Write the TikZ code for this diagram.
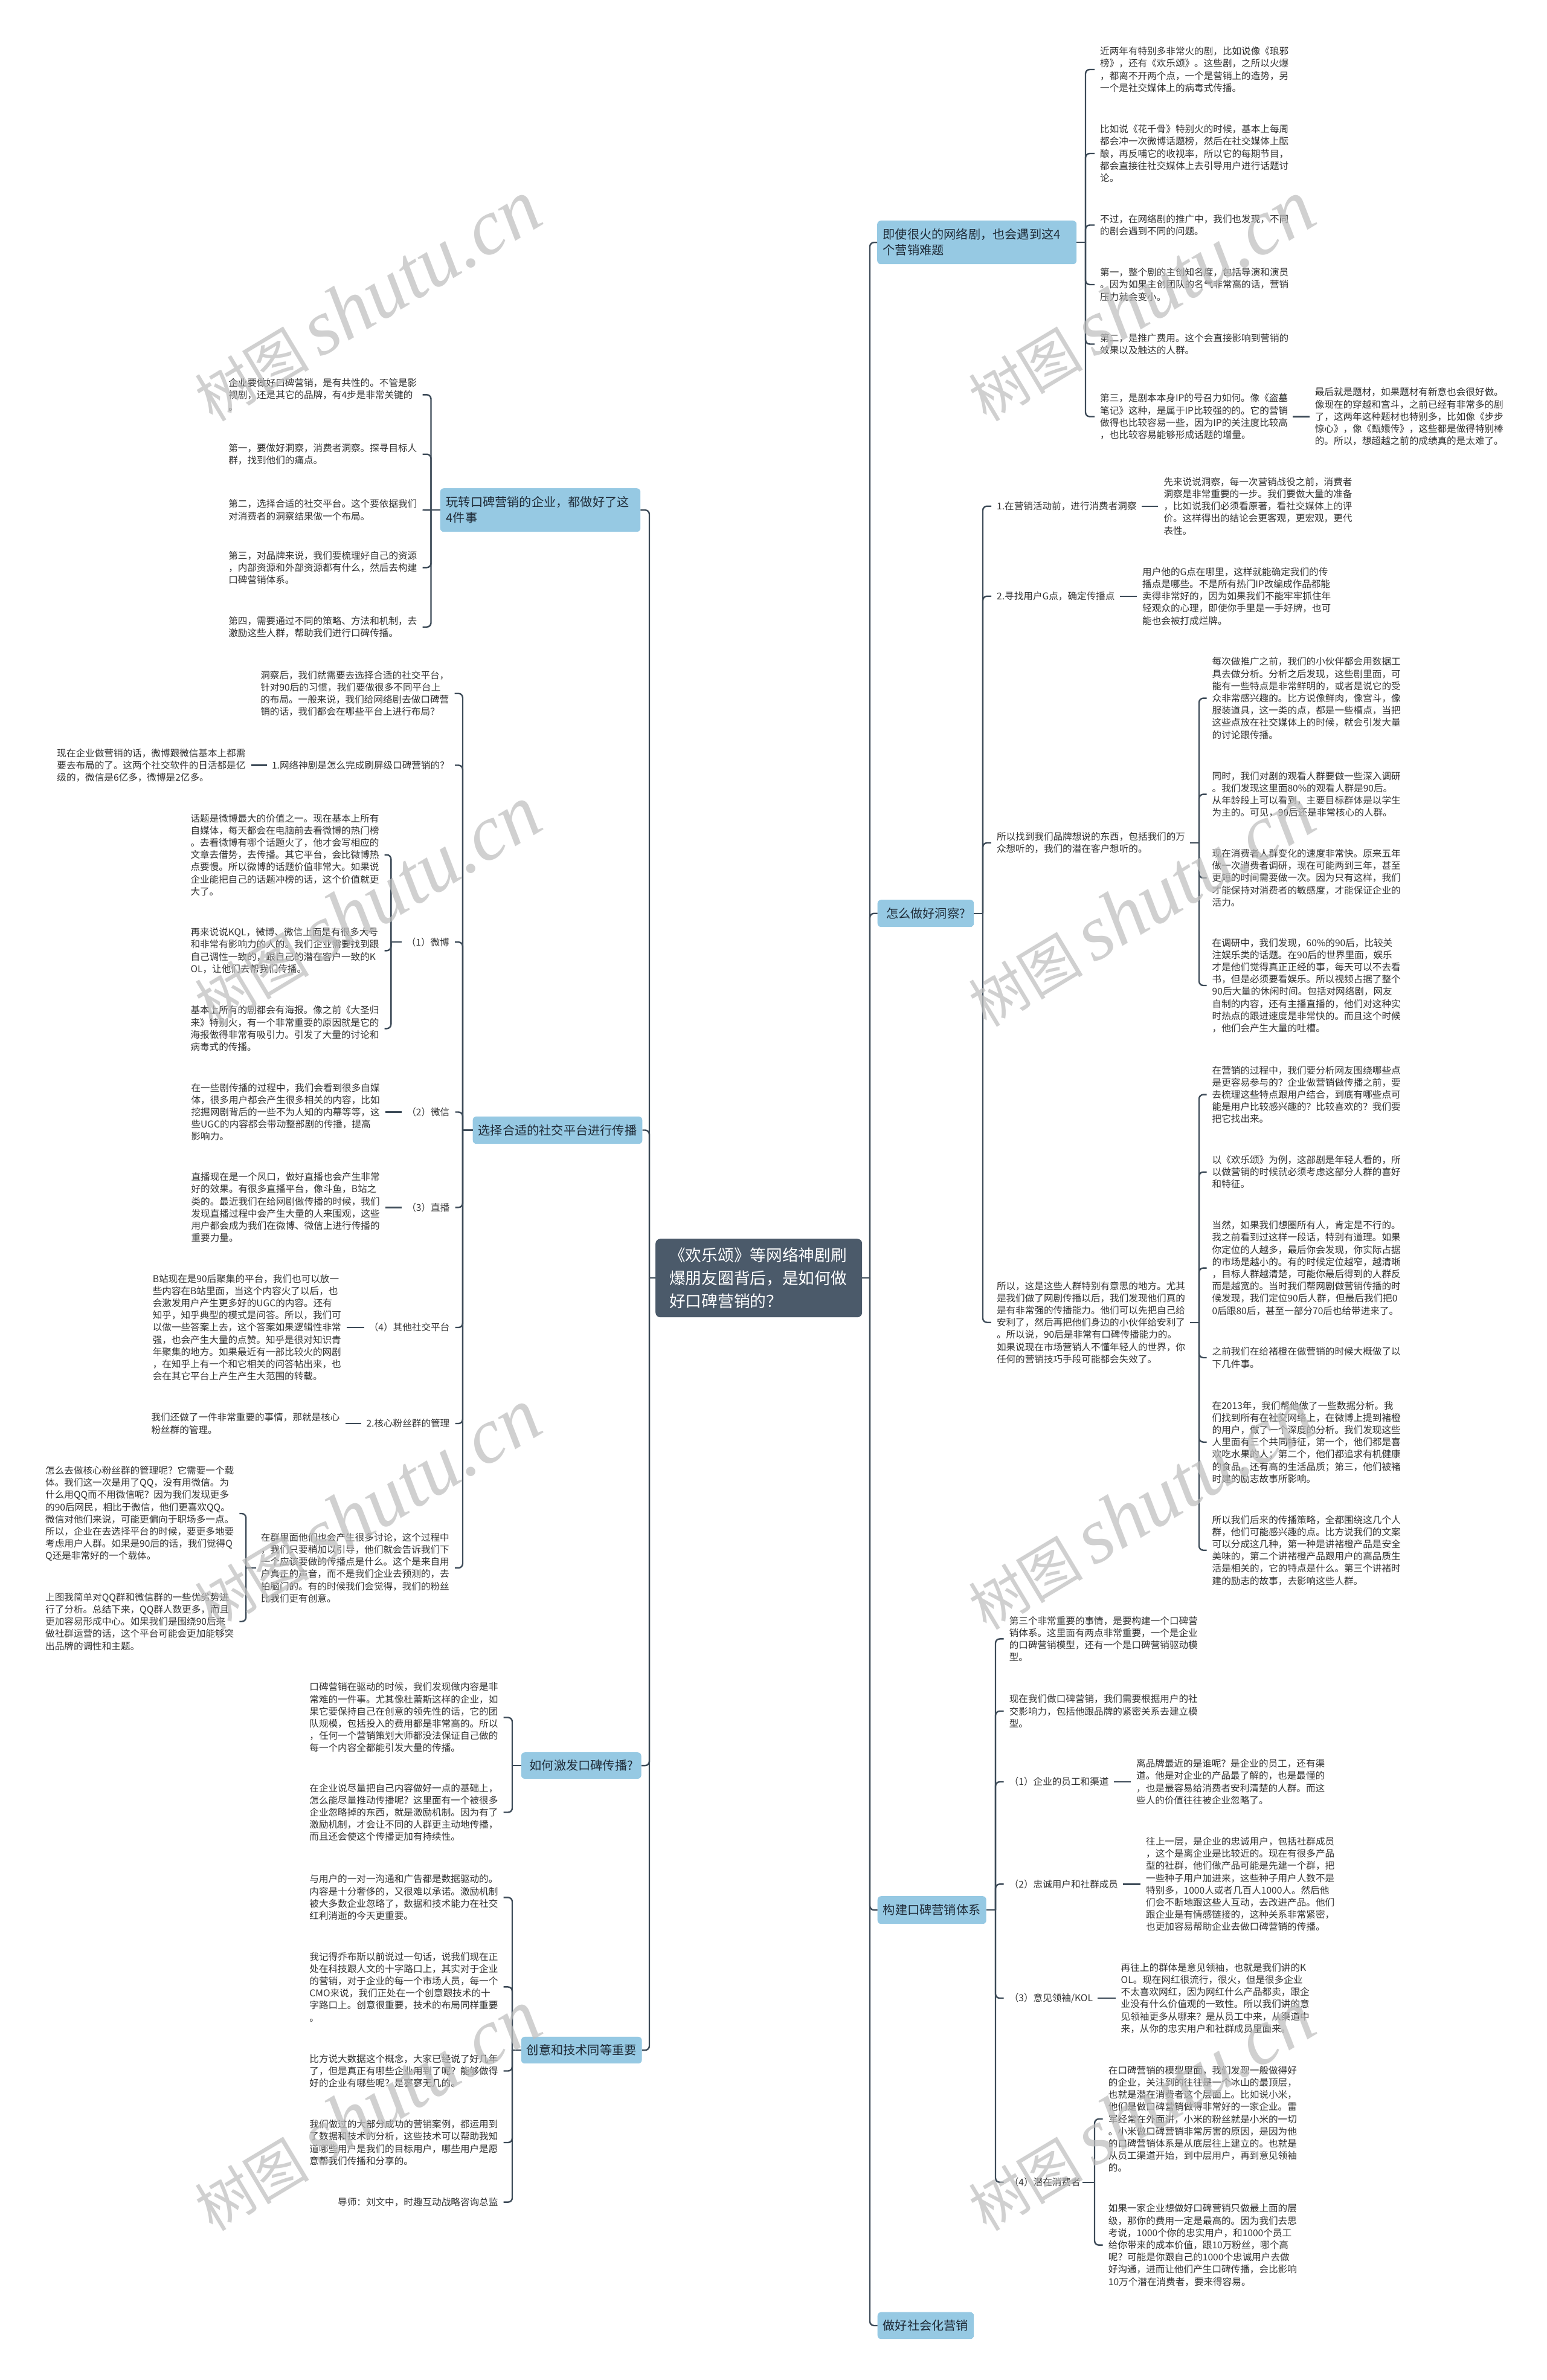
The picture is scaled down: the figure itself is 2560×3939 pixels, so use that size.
\documentclass[tikz,border=0pt]{standalone}
\usepackage{fontspec}
\setmainfont{Noto Sans CJK SC}
\newfontfamily\wmfont{Liberation Serif}
\definecolor{lcol}{HTML}{3D4B58}
\definecolor{tcol}{HTML}{333333}
\definecolor{boxblue}{HTML}{96C9E3}
\definecolor{boxtxt}{HTML}{1E2A36}
\definecolor{cfill}{HTML}{4B5A6A}
\definecolor{wmcol}{HTML}{BDBDBD}
\newcommand{\fanR}[5]{\draw[conn] ([xshift=#2]#1.east) -- (#3 |- #1.east);
 \foreach \cc in {#5}{\draw[conn,rcor] (#3 |- #1.east) |- ([xshift=-#4]\cc.west);}}
\newcommand{\fanL}[5]{\draw[conn] ([xshift=-#2]#1.west) -- (#3 |- #1.west);
 \foreach \cc in {#5}{\draw[conn,rcor] (#3 |- #1.west) |- ([xshift=#4]\cc.east);}}
\newcommand{\linkR}[2]{\draw[conn] ([xshift=8pt]#1.east) -- ([xshift=-9pt]#2.west);}
\newcommand{\linkL}[2]{\draw[conn] ([xshift=-8pt]#1.west) -- ([xshift=9pt]#2.east);}
\begin{document}
\begin{tikzpicture}[x=1pt,y=-1pt,
 txt/.style={font=\fontsize{15.6}{20.2}\selectfont, align=left, inner sep=0pt, text=tcol},
 rt/.style={txt, anchor=west},
 lt/.style={txt, anchor=east},
 brbox/.style={fill=boxblue, rounded corners=6pt, font=\fontsize{20.2}{26}\selectfont, text=boxtxt, inner xsep=9pt, inner ysep=0pt, anchor=north west, align=left},
 conn/.style={draw=lcol, line width=2.4pt},
 rcor/.style={rounded corners=7pt},
 wm/.style={text=wmcol, opacity=0.7, rotate=31, inner sep=0pt, anchor=base west}
]
\fill[white] (0,0) rectangle (2560,3939);
\useasboundingbox (0,0) rectangle (2560,3939);

% ---------- central and branch boxes ----------
\node[fill=cfill, rounded corners=8pt, anchor=north west, text=white, font=\fontsize{26.7}{37.7}\selectfont, text width=296pt, inner xsep=23pt, inner ysep=0pt, minimum height=130pt, align=left] (C) at (1085,2050) {《欢乐颂》等网络神剧刷\\爆朋友圈背后，是如何做\\好口碑营销的？};

\node[brbox, text width=311pt, inner xsep=9.5pt, minimum height=72pt] (R1) at (1452,365) {即使很火的网络剧，也会遇到这4\\个营销难题};
\node[brbox, minimum width=159.5pt, minimum height=45pt] (R2) at (1452.5,1489) {怎么做好洞察?};
\node[brbox, minimum width=180pt, minimum height=46pt] (R3) at (1452.5,3138) {构建口碑营销体系};
\node[brbox, minimum width=159.5pt, minimum height=44.5pt] (R4) at (1452.5,3826.5) {做好社会化营销};
\node[brbox, text width=311.5pt, inner xsep=10pt, minimum height=72pt] (L1) at (728.5,808) {玩转口碑营销的企业，都做好了这\\4件事};
\node[brbox, minimum width=279pt, minimum height=45.4pt] (L2) at (782.5,1847.6) {选择合适的社交平台进行传播};
\node[brbox, minimum width=198.8pt, minimum height=43.7pt] (L3) at (862.6,2900) {如何激发口碑传播?};
\node[brbox, minimum width=198.8pt, minimum height=44.3pt] (L4) at (862.6,3370.7) {创意和技术同等重要};

% ---------- R1 children ----------
\node[rt] (R1a) at (1821,115) {近两年有特别多非常火的剧，比如说像《琅邪\\榜》，还有《欢乐颂》。这些剧，之所以火爆\\，都离不开两个点，一个是营销上的造势，另\\一个是社交媒体上的病毒式传播。};
\node[rt] (R1b) at (1821,254) {比如说《花千骨》特别火的时候，基本上每周\\都会冲一次微博话题榜，然后在社交媒体上酝\\酿，再反哺它的收视率，所以它的每期节目，\\都会直接往社交媒体上去引导用户进行话题讨\\论。};
\node[rt] (R1c) at (1821,372.5) {不过，在网络剧的推广中，我们也发现，不同\\的剧会遇到不同的问题。};
\node[rt] (R1d) at (1821,471) {第一，整个剧的主创知名度，包括导演和演员\\。因为如果主创团队的名气非常高的话，营销\\压力就会变小。};
\node[rt] (R1e) at (1821,569.5) {第二，是推广费用。这个会直接影响到营销的\\效果以及触达的人群。};
\node[rt] (R1f) at (1821,689.5) {第三，是剧本本身IP的号召力如何。像《盗墓\\笔记》这种，是属于IP比较强的的。它的营销\\做得也比较容易一些，因为IP的关注度比较高\\，也比较容易能够形成话题的增量。};
\node[rt] (R1g) at (2176.6,689.5) {最后就是题材，如果题材有新意也会很好做。\\像现在的穿越和宫斗，之前已经有非常多的剧\\了，这两年这种题材也特别多，比如像《步步\\惊心》，像《甄嬛传》，这些都是做得特别棒\\的。所以，想超越之前的成绩真的是太难了。};

% ---------- R2 children ----------
\node[rt] (R2a) at (1650,837.7) {1.在营销活动前，进行消费者洞察};
\node[rt] (R2a1) at (1926.3,837.7) {先来说说洞察，每一次营销战役之前，消费者\\洞察是非常重要的一步。我们要做大量的准备\\，比如说我们必须看原著，看社交媒体上的评\\价。这样得出的结论会更客观，更宏观，更代\\表性。};
\node[rt] (R2b) at (1650,986.7) {2.寻找用户G点，确定传播点};
\node[rt] (R2b1) at (1891,986.7) {用户他的G点在哪里，这样就能确定我们的传\\播点是哪些。不是所有热门IP改编成作品都能\\卖得非常好的，因为如果我们不能牢牢抓住年\\轻观众的心理，即使你手里是一手好牌，也可\\能也会被打成烂牌。};
\node[rt] (R2c) at (1649.8,1395) {所以找到我们品牌想说的东西，包括我们的万\\众想听的，我们的潜在客户想听的。};
\node[rt] (R2c1) at (2006.5,1155.6) {每次做推广之前，我们的小伙伴都会用数据工\\具去做分析。分析之后发现，这些剧里面，可\\能有一些特点是非常鲜明的，或者是说它的受\\众非常感兴趣的。比方说像鲜肉，像宫斗，像\\服装道具，这一类的点，都是一些槽点，当把\\这些点放在社交媒体上的时候，就会引发大量\\的讨论跟传播。};
\node[rt] (R2c2) at (2006.5,1314.6) {同时，我们对剧的观看人群要做一些深入调研\\。我们发现这里面80\%的观看人群是90后。\\从年龄段上可以看到，主要目标群体是以学生\\为主的。可见，90后还是非常核心的人群。};
\node[rt] (R2c3) at (2006.5,1453) {现在消费者人群变化的速度非常快。原来五年\\做一次消费者调研，现在可能两到三年，甚至\\更短的时间需要做一次。因为只有这样，我们\\才能保持对消费者的敏感度，才能保证企业的\\活力。};
\node[rt] (R2c4) at (2006.5,1631) {在调研中，我们发现，60\%的90后，比较关\\注娱乐类的话题。在90后的世界里面，娱乐\\才是他们觉得真正正经的事，每天可以不去看\\书，但是必须要看娱乐。所以视频占据了整个\\90后大量的休闲时间。包括对网络剧，网友\\自制的内容，还有主播直播的，他们对这种实\\时热点的跟进速度是非常快的。而且这个时候\\，他们会产生大量的吐槽。};
\node[rt] (R2d) at (1649.8,2188.7) {所以，这是这些人群特别有意思的地方。尤其\\是我们做了网剧传播以后，我们发现他们真的\\是有非常强的传播能力。他们可以先把自己给\\安利了，然后再把他们身边的小伙伴给安利了\\。所以说，90后是非常有口碑传播能力的。\\如果说现在市场营销人不懂年轻人的世界，你\\任何的营销技巧手段可能都会失效了。};
\node[rt] (R2d1) at (2006.5,1811.6) {在营销的过程中，我们要分析网友围绕哪些点\\是更容易参与的？企业做营销做传播之前，要\\去梳理这些特点跟用户结合，到底有哪些点可\\能是用户比较感兴趣的？比较喜欢的？我们要\\把它找出来。};
\node[rt] (R2d2) at (2006.5,1939.7) {以《欢乐颂》为例，这部剧是年轻人看的，所\\以做营销的时候就必须考虑这部分人群的喜好\\和特征。};
\node[rt] (R2d3) at (2006.5,2098.6) {当然，如果我们想圈所有人，肯定是不行的。\\我之前看到过这样一段话，特别有道理。如果\\你定位的人越多，最后你会发现，你实际占据\\的市场是越小的。有的时候定位越窄，越清晰\\，目标人群越清楚，可能你最后得到的人群反\\而是越宽的。当时我们帮网剧做营销传播的时\\候发现，我们定位90后人群，但最后我们把0\\0后跟80后，甚至一部分70后也给带进来了。};
\node[rt] (R2d4) at (2006.5,2247) {之前我们在给褚橙在做营销的时候大概做了以\\下几件事。};
\node[rt] (R2d5) at (2006.5,2386.7) {在2013年，我们帮他做了一些数据分析。我\\们找到所有在社交网络上，在微博上提到褚橙\\的用户，做了一个深度的分析。我们发现这些\\人里面有三个共同特征，第一个，他们都是喜\\欢吃水果的人；第二个，他们都追求有机健康\\的食品，还有高的生活品质；第三，他们被褚\\时建的励志故事所影响。};
\node[rt] (R2d6) at (2006.5,2565.7) {所以我们后来的传播策略，全都围绕这几个人\\群，他们可能感兴趣的点。比方说我们的文案\\可以分成这几种，第一种是讲褚橙产品是安全\\美味的，第二个讲褚橙产品跟用户的高品质生\\活是相关的，它的特点是什么。第三个讲褚时\\建的励志的故事，去影响这些人群。};

% ---------- R3 children ----------
\node[rt] (R3a) at (1670.6,2712.4) {第三个非常重要的事情，是要构建一个口碑营\\销体系。这里面有两点非常重要，一个是企业\\的口碑营销模型，还有一个是口碑营销驱动模\\型。};
\node[rt] (R3b) at (1670.6,2832) {现在我们做口碑营销，我们需要根据用户的社\\交影响力，包括他跟品牌的紧密关系去建立模\\型。};
\node[rt] (R3c) at (1670.6,2949) {（1）企业的员工和渠道};
\node[rt] (R3c1) at (1881,2949) {离品牌最近的是谁呢？是企业的员工，还有渠\\道。他是对企业的产品最了解的，也是最懂的\\，也是最容易给消费者安利清楚的人群。而这\\些人的价值往往被企业忽略了。};
\node[rt] (R3d) at (1670.6,3118.3) {（2）忠诚用户和社群成员};
\node[rt] (R3d1) at (1897,3118.3) {往上一层，是企业的忠诚用户，包括社群成员\\，这个是离企业是比较近的。现在有很多产品\\型的社群，他们做产品可能是先建一个群，把\\一些种子用户加进来，这些种子用户人数不是\\特别多，1000人或者几百人1000人。然后他\\们会不断地跟这些人互动，去改进产品。他们\\跟企业是有情感链接的，这种关系非常紧密，\\也更加容易帮助企业去做口碑营销的传播。};
\node[rt] (R3e) at (1670.6,3307) {（3）意见领袖/KOL};
\node[rt] (R3e1) at (1855.5,3307) {再往上的群体是意见领袖，也就是我们讲的K\\OL。现在网红很流行，很火，但是很多企业\\不太喜欢网红，因为网红什么产品都卖，跟企\\业没有什么价值观的一致性。所以我们讲的意\\见领袖更多从哪来？是从员工中来，从渠道中\\来，从你的忠实用户和社群成员里面来。};
\node[rt] (R3f) at (1670.6,3611.7) {（4）潜在消费者};
\node[rt] (R3f1) at (1834.7,3507) {在口碑营销的模型里面，我们发现一般做得好\\的企业，关注到的往往是一个冰山的最顶层，\\也就是潜在消费者这个层面上。比如说小米，\\他们是做口碑营销做得非常好的一家企业。雷\\军经常在外面讲，小米的粉丝就是小米的一切\\。小米做口碑营销非常厉害的原因，是因为他\\的口碑营销体系是从底层往上建立的。也就是\\从员工渠道开始，到中层用户，再到意见领袖\\的。};
\node[rt] (R3f2) at (1834.7,3715.6) {如果一家企业想做好口碑营销只做最上面的层\\级，那你的费用一定是最高的。因为我们去思\\考说，1000个你的忠实用户，和1000个员工\\给你带来的成本价值，跟10万粉丝，哪个高\\呢？可能是你跟自己的1000个忠诚用户去做\\好沟通，进而让他们产生口碑传播，会比影响\\10万个潜在消费者，要来得容易。};

% ---------- L1 children ----------
\node[lt] (L1a) at (690.5,653.3) {企业要做好口碑营销，是有共性的。不管是影\\视剧，还是其它的品牌，有4步是非常关键的\\。};
\node[lt] (L1b) at (690.5,751.7) {第一，要做好洞察，消费者洞察。探寻目标人\\群，找到他们的痛点。};
\node[lt] (L1c) at (690.5,844) {第二，选择合适的社交平台。这个要依据我们\\对消费者的洞察结果做一个布局。};
\node[lt] (L1d) at (690.5,939.3) {第三，对品牌来说，我们要梳理好自己的资源\\，内部资源和外部资源都有什么，然后去构建\\口碑营销体系。};
\node[lt] (L1e) at (690.5,1037.7) {第四，需要通过不同的策略、方法和机制，去\\激励这些人群，帮助我们进行口碑传播。};

% ---------- L2 children ----------
\node[lt] (L2a) at (743.5,1147.7) {洞察后，我们就需要去选择合适的社交平台，\\针对90后的习惯，我们要做很多不同平台上\\的布局。一般来说，我们给网络剧去做口碑营\\销的话，我们都会在哪些平台上进行布局？};
\node[lt] (L2b) at (744,1266.5) {1.网络神剧是怎么完成刷屏级口碑营销的？};
\node[lt] (L2b1) at (406.6,1266.5) {现在企业做营销的话，微博跟微信基本上都需\\要去布局的了。这两个社交软件的日活都是亿\\级的，微信是6亿多，微博是2亿多。};
\node[lt] (L2c) at (744,1559.2) {（1）微博};
\node[lt] (L2c1) at (627.7,1414.8) {话题是微博最大的价值之一。现在基本上所有\\自媒体，每天都会在电脑前去看微博的热门榜\\。去看微博有哪个话题火了，他才会写相应的\\文章去借势，去传播。其它平台，会比微博热\\点要慢。所以微博的话题价值非常大。如果说\\企业能把自己的话题冲榜的话，这个价值就更\\大了。};
\node[lt] (L2c2) at (627.7,1573.3) {再来说说KQL，微博、微信上面是有很多大号\\和非常有影响力的人的。我们企业需要找到跟\\自己调性一致的，跟自己的潜在客户一致的K\\OL，让他们去帮我们传播。};
\node[lt] (L2c3) at (627.7,1702.3) {基本上所有的剧都会有海报。像之前《大圣归\\来》特别火，有一个非常重要的原因就是它的\\海报做得非常有吸引力。引发了大量的讨论和\\病毒式的传播。};
\node[lt] (L2d) at (744.5,1840.5) {（2）微信};
\node[lt] (L2d1) at (628.8,1840.5) {在一些剧传播的过程中，我们会看到很多自媒\\体，很多用户都会产生很多相关的内容，比如\\挖掘网剧背后的一些不为人知的内幕等等，这\\些UGC的内容都会带动整部剧的传播，提高\\影响力。};
\node[lt] (L2e) at (744.5,1998.3) {（3）直播};
\node[lt] (L2e1) at (628.8,1998.3) {直播现在是一个风口，做好直播也会产生非常\\好的效果。有很多直播平台，像斗鱼，B站之\\类的。最近我们在给网剧做传播的时候，我们\\发现直播过程中会产生大量的人来围观，这些\\用户都会成为我们在微博、微信上进行传播的\\重要力量。};
\node[lt] (L2f) at (744.5,2197) {（4）其他社交平台};
\node[lt] (L2f1) at (565,2197) {B站现在是90后聚集的平台，我们也可以放一\\些内容在B站里面，当这个内容火了以后，也\\会激发用户产生更多好的UGC的内容。还有\\知乎，知乎典型的模式是问答。所以，我们可\\以做一些答案上去，这个答案如果逻辑性非常\\强，也会产生大量的点赞。知乎是很对知识青\\年聚集的地方。如果最近有一部比较火的网剧\\，在知乎上有一个和它相关的问答帖出来，也\\会在其它平台上产生产生大范围的转载。};
\node[lt] (L2g) at (744.5,2356) {2.核心粉丝群的管理};
\node[lt] (L2g1) at (562.7,2356) {我们还做了一件非常重要的事情，那就是核心\\粉丝群的管理。};
\node[lt] (L2h) at (744,2594.9) {在群里面他们也会产生很多讨论，这个过程中\\，我们只要稍加以引导，他们就会告诉我们下\\一个应该要做的传播点是什么。这个是来自用\\户真正的声音，而不是我们企业去预测的，去\\拍脑门的。有的时候我们会觉得，我们的粉丝\\比我们更有创意。};
\node[lt] (L2h1) at (387.4,2505) {怎么去做核心粉丝群的管理呢？它需要一个载\\体。我们这一次是用了QQ，没有用微信。为\\什么用QQ而不用微信呢？因为我们发现更多\\的90后网民，相比于微信，他们更喜欢QQ。\\微信对他们来说，可能更偏向于职场多一点。\\所以，企业在去选择平台的时候，要更多地要\\考虑用户人群。如果是90后的话，我们觉得Q\\Q还是非常好的一个载体。};
\node[lt] (L2h2) at (387.4,2683.7) {上图我简单对QQ群和微信群的一些优劣势进\\行了分析。总结下来，QQ群人数更多，而且\\更加容易形成中心。如果我们是围绕90后来\\做社群运营的话，这个平台可能会更加能够突\\出品牌的调性和主题。};

% ---------- L3 / L4 children ----------
\node[lt] (L3a) at (824.6,2842.5) {口碑营销在驱动的时候，我们发现做内容是非\\常难的一件事。尤其像杜蕾斯这样的企业，如\\果它要保持自己在创意的领先性的话，它的团\\队规模，包括投入的费用都是非常高的。所以\\，任何一个营销策划大师都没法保证自己做的\\每一个内容全都能引发大量的传播。};
\node[lt] (L3b) at (824.6,2999.5) {在企业说尽量把自己内容做好一点的基础上，\\怎么能尽量推动传播呢？这里面有一个被很多\\企业忽略掉的东西，就是激励机制。因为有了\\激励机制，才会让不同的人群更主动地传播，\\而且还会使这个传播更加有持续性。};
\node[lt] (L4a) at (824.6,3140.3) {与用户的一对一沟通和广告都是数据驱动的。\\内容是十分奢侈的，又很难以承诺。激励机制\\被大多数企业忽略了，数据和技术能力在社交\\红利消逝的今天更重要。};
\node[lt] (L4b) at (824.6,3288.4) {我记得乔布斯以前说过一句话，说我们现在正\\处在科技跟人文的十字路口上，其实对于企业\\的营销，对于企业的每一个市场人员，每一个\\CMO来说，我们正处在一个创意跟技术的十\\字路口上。创意很重要，技术的布局同样重要\\。};
\node[lt] (L4c) at (824.6,3427.5) {比方说大数据这个概念，大家已经说了好几年\\了，但是真正有哪些企业用到了呢？能够做得\\好的企业有哪些呢？是寥寥无几的。};
\node[lt] (L4d) at (824.6,3546) {我们做过的大部分成功的营销案例，都运用到\\了数据和技术的分析，这些技术可以帮助我知\\道哪些用户是我们的目标用户，哪些用户是愿\\意帮我们传播和分享的。};
\node[lt] (L4e) at (824.6,3644.6) {导师：刘文中，时趣互动战略咨询总监};

% ---------- spines ----------
\coordinate (sR) at (1440,0);
\coordinate (sL) at (1075,0);
\coordinate (sR1) at (1797,0);
\coordinate (sR2) at (1627,0);
\coordinate (sR2c) at (1985,0);
\coordinate (sR3) at (1648,0);
\coordinate (sR3f) at (1812,0);
\coordinate (sL1) at (713.5,0);
\coordinate (sL2) at (766,0);
\coordinate (sL2c) at (647.3,0);
\coordinate (sL2h) at (407.2,0);
\coordinate (sL3) at (848,0);

% ---------- connectors ----------
\fanR{C}{0pt}{sR}{0pt}{R1,R2,R3,R4}
\fanL{C}{0pt}{sL}{0pt}{L1,L2,L3,L4}
\fanR{R1}{0pt}{sR1}{9pt}{R1a,R1b,R1c,R1d,R1e,R1f}
\linkR{R1f}{R1g}
\fanR{R2}{0pt}{sR2}{9pt}{R2a,R2b,R2c,R2d}
\linkR{R2a}{R2a1}
\linkR{R2b}{R2b1}
\fanR{R2c}{8pt}{sR2c}{9pt}{R2c1,R2c2,R2c3,R2c4}
\fanR{R2d}{8pt}{sR2c}{9pt}{R2d1,R2d2,R2d3,R2d4,R2d5,R2d6}
\fanR{R3}{0pt}{sR3}{9pt}{R3a,R3b,R3c,R3d,R3e,R3f}
\linkR{R3c}{R3c1}
\linkR{R3d}{R3d1}
\linkR{R3e}{R3e1}
\fanR{R3f}{3pt}{sR3f}{9pt}{R3f1,R3f2}
\fanL{L1}{0pt}{sL1}{9pt}{L1a,L1b,L1d,L1e}
\draw[conn] (sL1 |- L1.west) -- ([xshift=9pt]L1c.east);
\fanL{L2}{0pt}{sL2}{9pt}{L2a,L2b,L2c,L2d,L2e,L2f,L2g,L2h}
\linkL{L2b}{L2b1}
\linkL{L2d}{L2d1}
\linkL{L2e}{L2e1}
\linkL{L2f}{L2f1}
\linkL{L2g}{L2g1}
\fanL{L2c}{8pt}{sL2c}{9pt}{L2c1,L2c2,L2c3}
\fanL{L2h}{8pt}{sL2h}{9pt}{L2h1,L2h2}
\fanL{L3}{0pt}{sL3}{9pt}{L3a,L3b}
\fanL{L4}{0pt}{sL3}{9pt}{L4a,L4b,L4c,L4d,L4e}

% ---------- watermarks ----------
\foreach \wx/\wy [count=\i] in {352/700,1633/700,352/1702,1633/1702,352/2700,1633/2700,352/3695,1633/3695}{
  \node[wm] (wm\i) at (\wx,\wy) {{\fontsize{95}{95}\selectfont 树图}\hspace{18pt}{\wmfont\itshape\fontsize{130}{130}\selectfont shutu.cn}};
}
\end{tikzpicture}
\end{document}
